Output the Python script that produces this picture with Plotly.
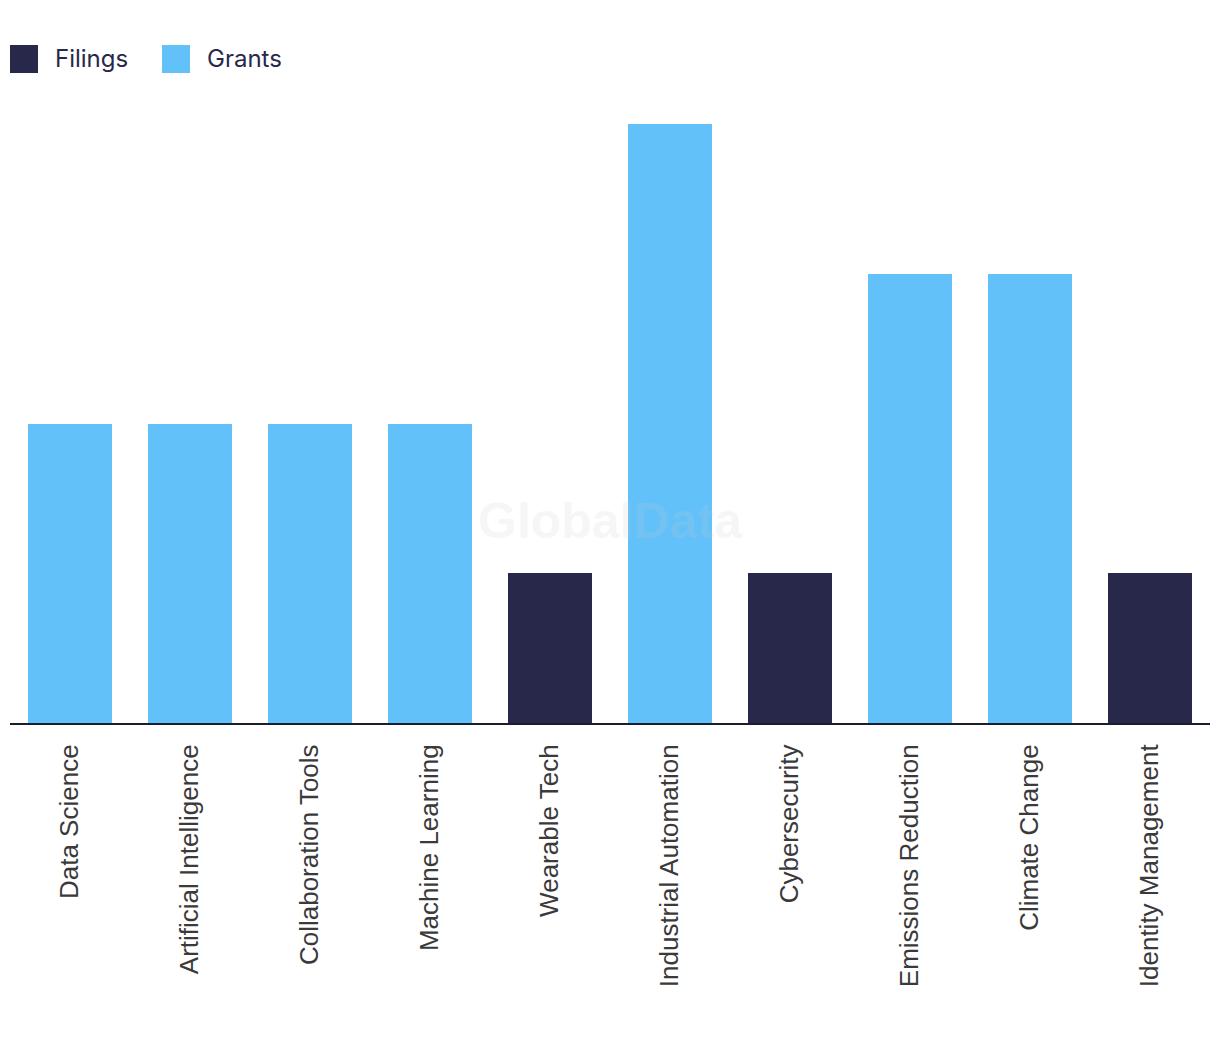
import plotly.graph_objects as go

categories = ["Data Science", "Artificial Intelligence", "Collaboration Tools", "Machine Learning",
              "Wearable Tech", "Industrial Automation", "Cybersecurity", "Emissions Reduction",
              "Climate Change", "Identity Management"]
filings = [0, 0, 0, 0, 1, 0, 1, 0, 0, 1]
grants = [2, 2, 2, 2, 0, 4, 0, 3, 3, 0]
series_names = ["Filings", "Grants"]
series_colors = ["#27284a", "#63c1f9"]

fig = go.Figure()
fig.add_trace(go.Bar(x=categories, y=filings, name=series_names[0], marker_color=series_colors[0],
                     marker_line_width=0, showlegend=False))
fig.add_trace(go.Bar(x=categories, y=grants, name=series_names[1], marker_color=series_colors[1],
                     marker_line_width=0, showlegend=False))

# custom legend (large square swatches)
legend_x = [10, 162]
for i, (nm, col) in enumerate(zip(series_names, series_colors)):
    fig.add_shape(type="rect", xref="paper", yref="paper",
                  x0=(legend_x[i] - 10) / 1200, x1=(legend_x[i] + 18) / 1200,
                  y0=(723 - 73) / 599, y1=(723 - 45) / 599,
                  fillcolor=col, line_width=0)
    fig.add_annotation(text=nm, xref="paper", yref="paper",
                       x=(legend_x[i] + 33) / 1200, y=(723 - 58) / 599,
                       xanchor="left", yanchor="middle", showarrow=False,
                       font=dict(family="Inter, Roboto, sans-serif", size=24, color="#27284a"))

# watermark
fig.add_annotation(text="<b>GlobalData</b>", xref="paper", yref="paper", x=0.5, y=(723 - 521) / 599,
                   showarrow=False, font=dict(family="Liberation Sans, Arial", size=50,
                                              color="rgba(200,200,200,0.16)"))

fig.update_layout(
    width=1220, height=1042,
    margin=dict(l=2, r=18, t=116, b=327),
    barmode="stack", bargap=0.3,
    plot_bgcolor="white", paper_bgcolor="white",
    showlegend=False,
    font=dict(family="Liberation Sans, Arial", size=20, color="#333333"),
)
fig.update_xaxes(showline=True, linecolor="#1c1c30", linewidth=2, tickangle=-90,
                 ticks="", ticklabelstandoff=9, showgrid=False,
                 tickfont=dict(family="Liberation Sans, Arial", size=26, color="#3a3a3a"))
fig.update_yaxes(range=[0, 4], visible=False, showgrid=False, zeroline=False)

fig.write_html("out.html")
